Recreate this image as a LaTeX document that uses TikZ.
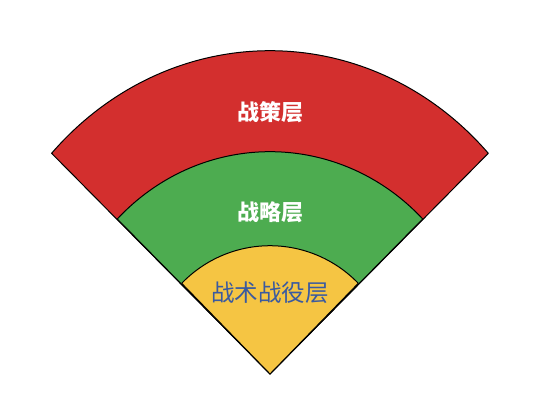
\documentclass[tikz,border=0pt]{standalone}
\usepackage{fontspec}
\newfontfamily\cjk{Noto Sans CJK SC}
\definecolor{celred}{RGB}{211,47,46}
\definecolor{celgreen}{RGB}{77,172,80}
\definecolor{celyellow}{RGB}{245,197,67}
\definecolor{celblue}{RGB}{58,90,160}
\begin{document}
\begin{tikzpicture}[x=1pt,y=1pt,line width=1pt,line join=round,
    layer/.style={draw=black,fill=#1},
    tag/.style={font=\cjk\fontsize{22}{26}\selectfont},
    boldtag/.style={text=white,font=\cjk\bfseries\fontsize{22}{26}\selectfont}]
    \useasboundingbox(-270,-38)rectangle(270,374);
    \coordinate(apex)at(0,0);
    % outer to inner
    \draw[layer=celred](apex)--(218.3,220.7)arc[start angle=43.05,end angle=136.95,x radius=298.8,y radius=323.3]--cycle;
    \draw[layer=celgreen](apex)--(152.7,155)arc[start angle=44.2,end angle=135.8,x radius=213,y radius=222.3]--cycle;
    \draw[layer=celyellow](apex)--(88.3,90.7)arc[start angle=45,end angle=135,x radius=124.9,y radius=128.3]--cycle;
    \node[boldtag](strategy)at(0,262){战策层};
    \node[boldtag](strategic)at(0,162){战略层};
    \node[tag,text=celblue,font=\cjk\fontsize{23.5}{28}\selectfont](tactical)at(0,81){战术战役层};
\end{tikzpicture}
\end{document}
